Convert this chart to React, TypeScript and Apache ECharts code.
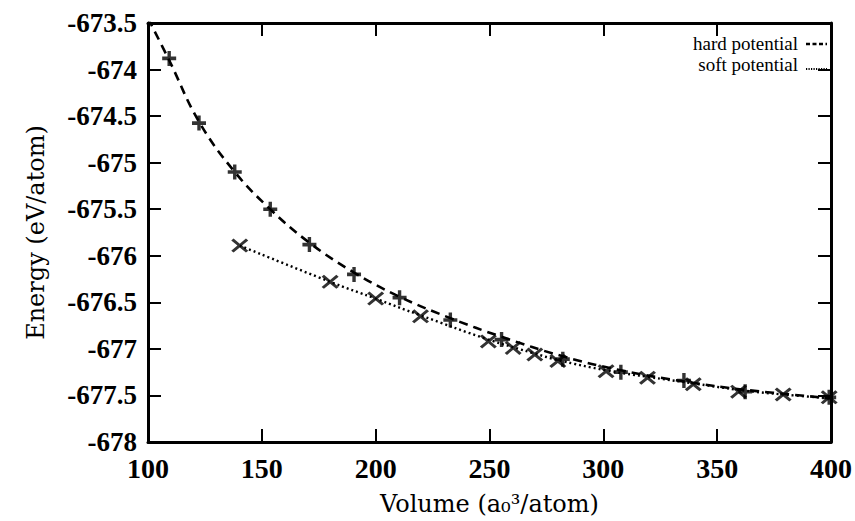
import React, { useEffect, useRef } from "react";
import * as echarts from "echarts";

// Data
const hardPoints: [number, number][] = [
  [109.3, -673.88], [122.4, -674.575], [138.1, -675.1], [153.7, -675.5],
  [170.9, -675.88], [190.5, -676.2], [210.5, -676.45], [232.8, -676.69],
  [255.3, -676.9], [282.2, -677.11], [307.7, -677.25], [335.4, -677.34],
  [362.3, -677.46], [399.2, -677.52],
];
const softPoints: [number, number][] = [
  [140.3, -675.89], [180, -676.28], [200, -676.46], [219.7, -676.65],
  [249.5, -676.92], [260.4, -676.99], [269.9, -677.06], [280, -677.13],
  [301.2, -677.24], [319.4, -677.31], [339.5, -677.38], [359.4, -677.46],
  [379, -677.49], [399.2, -677.52],
];
const hardCurve: [number, number][] = [
  [100, -673.45], [109.3, -673.9], [122.4, -674.56], [138.1, -675.1],
  [153.7, -675.5], [170.9, -675.86], [190.5, -676.18], [210.5, -676.44],
  [232.8, -676.67], [255.3, -676.87], [282.2, -677.08], [307.7, -677.23],
  [335.4, -677.35], [362.3, -677.44], [400, -677.53],
];
const softCurve: [number, number][] = [
  [140.3, -675.89], [180, -676.28], [200, -676.46], [219.7, -676.64],
  [249.5, -676.9], [269.9, -677.05], [280, -677.12], [301.2, -677.23],
  [319.4, -677.3], [339.5, -677.37], [359.4, -677.44], [379, -677.49],
  [400, -677.53],
];
const legendLabels = ["hard potential", "soft potential"];
const xTitle = "Volume (a\u2080\u00b3/atom)";
const yTitle = "Energy (eV/atom)";

const PLUS =
  "path://M-1.7,-7 L1.7,-7 L1.7,-1.7 L7,-1.7 L7,1.7 L1.7,1.7 L1.7,7 L-1.7,7 L-1.7,1.7 L-7,1.7 L-7,-1.7 L-1.7,-1.7 Z";
const CROSS =
  "path://M-7,-5.1 L-5.1,-7 L0,-1.9 L5.1,-7 L7,-5.1 L1.9,0 L7,5.1 L5.1,7 L0,1.9 L-5.1,7 L-7,5.1 L-1.9,0 Z";

const serif = "DejaVu Serif";
const times = "Liberation Serif";

export default function App() {
  const ref = useRef<HTMLDivElement>(null);
  useEffect(() => {
    if (!ref.current) return;
    const chart = echarts.init(ref.current, undefined, { renderer: "svg" });
    const axisLine = { show: true, lineStyle: { color: "#000", width: 3 } };
    const axisTick = { show: true, inside: true, length: 13, lineStyle: { color: "#000", width: 2 } };
    chart.setOption({
      animation: false,
      backgroundColor: "#fff",
      grid: { left: 148, right: 23, top: 23, bottom: 74, containLabel: false },
      xAxis: [
        {
          type: "value", min: 100, max: 400, interval: 50, position: "bottom",
          axisLine, axisTick, splitLine: { show: false },
          axisLabel: { color: "#000", fontFamily: times, fontWeight: "bold", fontSize: 28, margin: 12 },
          name: xTitle, nameLocation: "middle", nameGap: 50,
          nameTextStyle: { color: "#000", fontFamily: serif, fontSize: 24 },
        },
        {
          type: "value", min: 100, max: 400, interval: 50, position: "top",
          axisLine, axisTick, splitLine: { show: false }, axisLabel: { show: false },
        },
      ],
      yAxis: [
        {
          type: "value", min: -678, max: -673.5, interval: 0.5, position: "left",
          axisLine, axisTick, splitLine: { show: false },
          axisLabel: { color: "#000", fontFamily: times, fontWeight: "bold", fontSize: 27, margin: 11 },
          name: yTitle, nameLocation: "middle", nameGap: 100, nameRotate: 90,
          nameTextStyle: { color: "#000", fontFamily: serif, fontSize: 24 },
        },
        {
          type: "value", min: -678, max: -673.5, interval: 0.5, position: "right",
          axisLine, axisTick, splitLine: { show: false }, axisLabel: { show: false },
        },
      ],
      series: [
        {
          type: "line", data: hardCurve, smooth: 0.4, showSymbol: false, symbol: "none",
          clip: true,
          lineStyle: { color: "#000", width: 2.6, type: [9, 6] },
        },
        {
          type: "line", data: softCurve, smooth: 0.4, showSymbol: false, symbol: "none",
          clip: true,
          lineStyle: { color: "#000", width: 2.4, type: [2, 3] },
        },
        {
          type: "scatter", data: hardPoints, symbol: PLUS, symbolSize: [14, 15],
          itemStyle: { color: "#000" }, z: 5,
        },
        {
          type: "scatter", data: softPoints, symbol: CROSS, symbolSize: [17, 14],
          itemStyle: { color: "#000" }, z: 5,
        },
      ],
      graphic: [
        {
          type: "text", x: 798, y: 43.5,
          style: { text: legendLabels[0], fill: "#000", font: `19px ${times}`, textAlign: "right", textVerticalAlign: "middle" },
        },
        {
          type: "text", x: 798, y: 64.5,
          style: { text: legendLabels[1], fill: "#000", font: `19px ${times}`, textAlign: "right", textVerticalAlign: "middle" },
        },
        {
          type: "line", shape: { x1: 806, y1: 44, x2: 827, y2: 44 },
          style: { stroke: "#000", lineWidth: 2.4, lineDash: [4, 2.5] },
        },
        {
          type: "line", shape: { x1: 806, y1: 69, x2: 827, y2: 69 },
          style: { stroke: "#000", lineWidth: 2, lineDash: [1.2, 1.3] },
        },
      ],
    });
    return () => chart.dispose();
  }, []);
  return (
    <div
      ref={ref}
      style={{ position: "absolute", left: 0, top: 0, width: 855, height: 521 }}
    />
  );
}
